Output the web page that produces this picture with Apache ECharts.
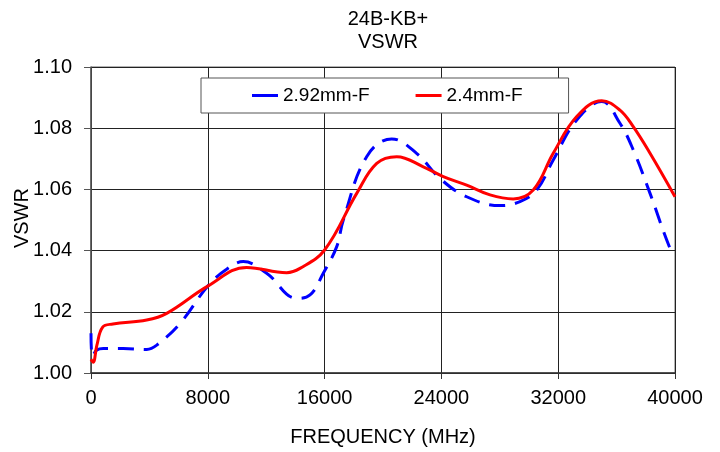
<!DOCTYPE html>
<html>
<head>
<meta charset="utf-8">
<script src="https://cdn.jsdelivr.net/npm/echarts@6/dist/echarts.min.js"></script>
<style>
  html, body { margin: 0; padding: 0; background: #fff; }
  #chart { width: 720px; height: 452px; }
</style>
</head>
<body>
<div id="chart"></div>
<script>
// frequency (MHz) / VSWR
var freq292 = [0, 100, 400, 840, 2210, 3815, 4500, 6100, 8000, 9290, 10430, 12030, 14090, 15000, 15910, 16830, 17280, 18880, 20595, 22300, 23900, 25730, 28010, 29380, 30530, 31660, 33270, 34980, 36230, 37140, 38290, 39660, 40000];
var vswr292 = [1.013, 1.0055, 1.0075, 1.008, 1.008, 1.0077, 1.0091, 1.0162, 1.0284, 1.0339, 1.0364, 1.0326, 1.0244, 1.0255, 1.0326, 1.0413, 1.050, 1.0707, 1.0765, 1.0718, 1.0636, 1.0576, 1.0547, 1.056, 1.0598, 1.0696, 1.0827, 1.0887, 1.0816, 1.0729, 1.0587, 1.0407, 1.0386];

var freq24 = [0, 150, 400, 800, 1500, 3815, 5185, 8000, 10660, 13400, 14315, 16000, 18200, 19570, 20940, 22760, 24130, 25730, 27330, 28920, 30290, 31660, 33270, 34980, 36230, 37140, 38290, 40000];
var vswr24 = [1.0045, 1.0035, 1.009, 1.015, 1.016, 1.0173, 1.0195, 1.0284, 1.0345, 1.0328, 1.0342, 1.0402, 1.0587, 1.0685, 1.0707, 1.0674, 1.0642, 1.0614, 1.0582, 1.0569, 1.0598, 1.0718, 1.0838, 1.089, 1.0859, 1.0805, 1.0718, 1.0576];

var xTicks = [0, 8000, 16000, 24000, 32000, 40000];
var yTicks = [1.00, 1.02, 1.04, 1.06, 1.08, 1.10];

function pairs(xs, ys) {
  return xs.map(function (x, i) { return [x, ys[i]]; });
}

var font = 'Liberation Sans, Arial, sans-serif';
var myChart = echarts.init(document.getElementById('chart'));
var option = {
  animation: false,
  backgroundColor: '#fff',
  title: {
    text: '24B-KB+\nVSWR',
    left: 383, top: 3, textAlign: 'center',
    textStyle: { fontFamily: font, fontSize: 20, fontWeight: 'normal', color: '#000', lineHeight: 23 }
  },
  // y axis title, placed by hand (v6 pushes axis names away from the labels)
  graphic: [{
    type: 'text', x: 22, y: 218, rotation: Math.PI / 2,
    style: { text: 'VSWR', font: '20px ' + font, fill: '#000', align: 'center', verticalAlign: 'middle' }
  }],
  legend: {
    left: 201, top: 78,
    itemGap: 46,
    padding: [8, 46, 8, 51],
    backgroundColor: '#fff', borderColor: '#555', borderWidth: 1,
    itemWidth: 26, itemHeight: 3,
    icon: 'rect',
    textStyle: { fontFamily: font, fontSize: 19, color: '#000' },
    data: ['2.92mm-F', '2.4mm-F']
  },
  grid: {
    left: 91, right: 45, top: 67, bottom: 79,
    containLabel: false, outerBoundsMode: 'none',
    show: true, borderColor: '#666', borderWidth: 1
  },
  xAxis: {
    type: 'value', min: xTicks[0], max: xTicks[xTicks.length - 1], interval: 8000,
    name: 'FREQUENCY (MHz)', nameLocation: 'middle', nameGap: 54,
    nameTextStyle: { fontFamily: font, fontSize: 20, color: '#000' },
    axisLine: { lineStyle: { color: '#333', width: 1.5 } },
    axisTick: { show: true, length: 6, lineStyle: { color: '#333' } },
    axisLabel: { fontFamily: font, fontSize: 20, color: '#000', margin: 15,
      formatter: function (v) { return String(v); } },
    splitLine: { show: true, lineStyle: { color: '#222', width: 1 } }
  },
  yAxis: {
    type: 'value', min: yTicks[0], max: yTicks[yTicks.length - 1], interval: 0.02,
    axisLine: { show: true, lineStyle: { color: '#555', width: 1.5 } },
    axisTick: { show: true, inside: false, length: 7, lineStyle: { color: '#555' } },
    axisLabel: { fontFamily: font, fontSize: 20, color: '#000', margin: 19,
      formatter: function (v) { return v.toFixed(2); } },
    splitLine: { show: true, lineStyle: { color: '#222', width: 1 } }
  },
  series: [
    {
      name: '2.92mm-F', type: 'line', smooth: 0.4, showSymbol: false,
      data: pairs(freq292, vswr292),
      lineStyle: { color: '#0000ff', width: 3, type: [16, 10] },
      itemStyle: { color: '#0000ff' }, z: 3
    },
    {
      name: '2.4mm-F', type: 'line', smooth: 0.4, showSymbol: false,
      data: pairs(freq24, vswr24),
      lineStyle: { color: '#ff0000', width: 3 },
      itemStyle: { color: '#ff0000' }, z: 4
    }
  ]
};
myChart.setOption(option);
</script>
</body>
</html>
